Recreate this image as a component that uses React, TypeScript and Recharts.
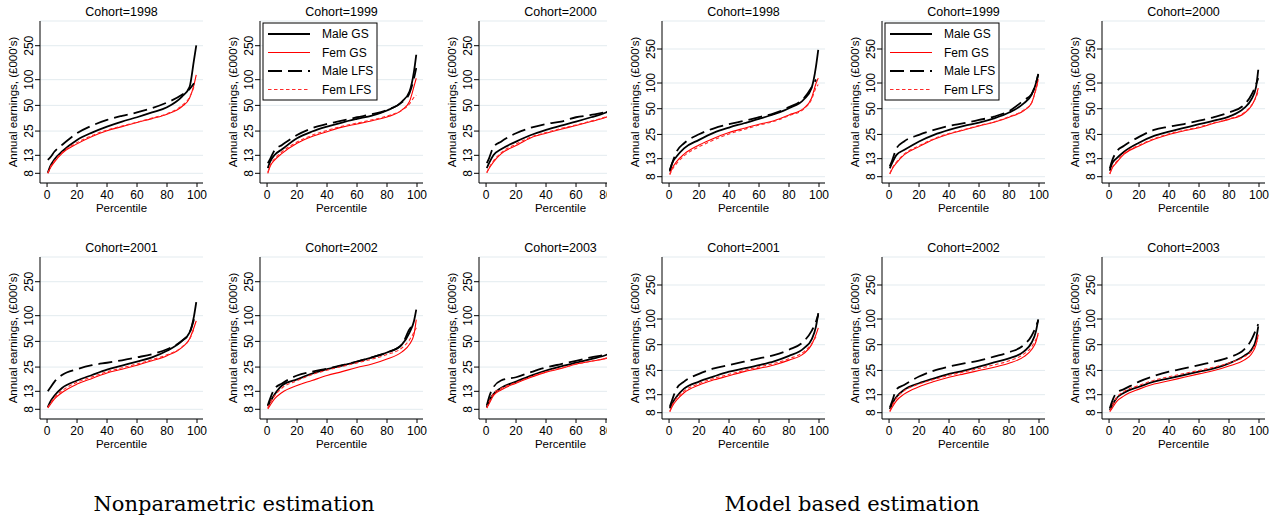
import React from 'react';
import { LineChart, Line, XAxis, YAxis, CartesianGrid } from 'recharts';

const FONT = '"Liberation Sans", Arial, Helvetica, sans-serif';

// percentile grid shared by every series
const PCT = [0.5, 2, 5, 10, 20, 30, 40, 50, 60, 70, 80, 90, 95, 98, 99.5];
const Y_TICKS = [8, 13, 25, 50, 100, 250];
const X_TICKS = [0, 20, 40, 60, 80, 100];
const SERIES_NAMES = ['Male GS', 'Fem GS', 'Male LFS', 'Fem LFS'];
const GROUP_TITLES = ['Nonparametric estimation', 'Model based estimation'];

// nonparametric estimation, annual earnings (£000's)
const np1998MaleGS = [8.1, 9.6, 11.7, 14.4, 19.7, 24, 28.2, 32.3, 36.3, 41.3, 47.6, 63.5, 81.8, 171, 252];
const np1998FemGS = [8, 9.1, 10.9, 13.7, 17.7, 21.6, 25.2, 28.2, 31.5, 35, 39.4, 48.5, 60.7, 87, 114];
const np1998MaleLFS = [11.5, 12.2, 14.4, 17.2, 23.6, 29, 33.8, 37.7, 41.3, 46.4, 54, 66.5, 77.4, 91, null];
const np1998FemLFS = [8, 9.3, 11.2, 14, 18.3, 22.2, 25.7, 28.6, 31.8, 35.5, 40, 50, 62, 82, null];

const np1999MaleGS = [9.2, 10.9, 13.1, 15.3, 20.6, 24.7, 28.2, 31.5, 34.7, 38, 43.5, 55.5, 72.7, 125, 196];
const np1999FemGS = [8, 9.6, 11.4, 13.7, 18, 21.6, 24.6, 27.8, 30.3, 33.1, 36.6, 44.2, 55.5, 83.3, 104];
const np1999MaleLFS = [10.5, 11.7, 14.9, 17.2, 22.5, 27, 30.3, 33.1, 36.3, 39.4, 44.2, 54.5, 69.5, 104, 137];
const np1999FemLFS = [8.2, 9.8, 11.8, 14.3, 18.6, 22.3, 25.4, 28.5, 31, 33.8, 37.5, 44, 52, 62, 66];

const np2000MaleGS = [9.2, 10.5, 13.1, 15.3, 18.8, 22.5, 25.8, 29, 32.3, 36.3, 41.3, 52, 66, 92, 140];
const np2000FemGS = [8.1, 9.1, 10.9, 13.5, 16.9, 20.9, 23.6, 26.3, 29, 32.3, 36.3, 44, 54, 70, 88];
const np2000MaleLFS = [10.5, 12, 16.3, 18.8, 23.6, 27.4, 30.3, 32.3, 36.3, 38.6, 41.9, 50, 62, 85, null];
const np2000FemLFS = [8.2, 9.3, 11.2, 13.9, 17.6, 21.3, 24, 26.8, 29.5, 32.7, 36.8, 45, 55, 68, null];

const np2001MaleGS = [8.5, 9.7, 11.6, 14.2, 17.4, 20.2, 23.3, 26, 29, 32.5, 38.8, 50.8, 63.4, 99, 144];
const np2001FemGS = [8.3, 9, 10.6, 12.6, 15.8, 18.4, 21.3, 23.6, 26.3, 29.6, 34, 42.5, 53.3, 72.8, 87];
const np2001MaleLFS = [13, 14.2, 16.9, 20.2, 23.6, 26.3, 28.1, 30, 32.5, 35.4, 40.4, 50.8, 62.5, 90.8, null];
const np2001FemLFS = [8.4, 9.3, 11, 13.2, 16.6, 19.2, 22, 24.5, 27.2, 30.5, 34.8, 43, 53, 70, null];

const np2002MaleGS = [8.7, 9.7, 11.9, 15.2, 17.9, 20.9, 23.6, 26, 29, 32.5, 37, 46.2, 63.4, 86.8, 118];
const np2002FemGS = [8.1, 8.9, 10.6, 12.6, 15.2, 17.4, 19.9, 22.1, 24.7, 27.1, 31, 37.7, 46.2, 60.5, 90];
const np2002MaleLFS = [8.9, 10.6, 13.9, 16.1, 19.9, 22.1, 24, 26.3, 29, 32.5, 37, 46, 69.5, 79, null];
const np2002FemLFS = [8.3, 9.5, 11.5, 14.2, 17.3, 20.4, 23, 25.4, 28, 31, 35, 42, 52, 64, 72];

const np2003MaleGS = [8.5, 10, 12.1, 14.2, 16.9, 19.9, 22.8, 25.5, 28.1, 31, 34.6, 42, 52, 70, 100];
const np2003FemGS = [8.3, 9.3, 11.6, 13.5, 16.2, 19, 21.8, 24, 27.1, 29.2, 31.6, 38, 46, 60, 80];
const np2003MaleLFS = [8.9, 11.1, 14.6, 17.4, 19, 21.8, 24.7, 27.1, 29.6, 32.5, 35.4, 43, 55, 72, null];
const np2003FemLFS = [8.3, 9.8, 12.2, 14, 16.5, 19.3, 22, 24.4, 27, 29.3, 31.8, 38, 46, 58, null];

// model based estimation
const mb1998MaleGS = [9.2, 11.4, 13.8, 17.2, 21.6, 26.3, 30.1, 33.8, 38, 43.1, 50.7, 64.6, 87, 157, 245];
const mb1998FemGS = [8.6, 10, 12, 14.7, 18.8, 22.6, 26.3, 29.5, 32.9, 36.2, 42.3, 50.7, 66.4, 98.6, 114];
const mb1998MaleLFS = [9.6, 11.4, 15.7, 19.7, 25.1, 29.5, 32.9, 36, 39.8, 44.2, 52.2, 66.4, 88.5, 110, null];
const mb1998FemLFS = [8.4, 9.6, 11.4, 14, 17.9, 21.6, 25.3, 28.6, 32.2, 35.6, 41.5, 50, 64, 88, 96];

const mb1999MaleGS = [10, 11.5, 14.4, 16.4, 20.7, 24.7, 28.2, 31.4, 34.3, 38.5, 45.1, 58, 72.8, 99.6, 128];
const mb1999FemGS = [8.6, 9.8, 11.6, 14.4, 18, 21.9, 25.3, 28.2, 31.4, 34.7, 39.8, 47.7, 58, 86.6, 111];
const mb1999MaleLFS = [10.6, 12.3, 17.2, 20.7, 24.7, 28.2, 31.4, 33.8, 36.9, 40.4, 47, 63, 74, 100, 125];
const mb1999FemLFS = [8.7, 10, 11.9, 14.7, 18.4, 22.3, 25.6, 28.5, 31.8, 35, 40.3, 48.5, 58.5, 84, 105];

const mb2000MaleGS = [9.4, 11.4, 13.1, 15.7, 20, 24, 27, 29.8, 32.9, 36.2, 40.4, 50.7, 64.6, 89.5, 143];
const mb2000FemGS = [8.6, 10, 11.7, 14.7, 18.3, 21.9, 25, 27.6, 30, 33.8, 37.5, 44, 54.1, 69.7, 87];
const mb2000MaleLFS = [10, 12.3, 15.7, 18.4, 23.4, 28.2, 30.8, 33.1, 36.2, 39.8, 45.1, 55.4, 72.8, 96, 114];
const mb2000FemLFS = [8.7, 10.2, 12, 15, 18.7, 22.3, 25.4, 28, 30.5, 34.2, 38, 45, 55, 68, 80];

const mb2001MaleGS = [9, 10.2, 12.3, 15.3, 18.5, 21.3, 24.2, 26.4, 28.9, 32, 37, 45.6, 57.4, 81.9, 117];
const mb2001FemGS = [8.2, 9.4, 11.2, 13.7, 16.9, 19.4, 21.7, 24.2, 26.4, 29, 33, 39.6, 49.8, 65.7, 78.6];
const mb2001MaleLFS = [9.4, 11.2, 15.3, 18.5, 22.8, 26.4, 28.9, 31.6, 34.6, 37.8, 43.7, 55.1, 72.1, 93.6, 112];
const mb2001FemLFS = [8.3, 9.7, 11.8, 14.3, 17.6, 20.2, 22.5, 25, 27.5, 30.2, 34.3, 41.5, 51, 62, null];

const mb2002MaleGS = [8.8, 10.1, 12.3, 14.8, 17.7, 20.2, 22.8, 24.9, 27.7, 31, 34.6, 41.8, 52.7, 72.1, 99];
const mb2002FemGS = [8.2, 9.2, 11.1, 13.2, 16.1, 18.5, 20.8, 22.8, 24.9, 27.2, 30.3, 36.3, 43.7, 54.5, 69];
const mb2002MaleLFS = [9.2, 10.8, 15.1, 16.9, 21.2, 24.9, 27.7, 30.3, 32.5, 36.3, 40.8, 49.8, 63.3, 81.9, 97];
const mb2002FemLFS = [8.4, 9.6, 11.9, 14.4, 17.3, 19.6, 21.9, 24, 26.4, 29, 32.4, 39, 47, 58, 64];

const mb2003MaleGS = [8.6, 9.7, 11.8, 13.7, 16.1, 18.5, 20.2, 22.1, 24.2, 26.4, 30.3, 37, 43.7, 57.4, 82];
const mb2003FemGS = [8.2, 9, 10.8, 12.6, 15.1, 17.3, 18.9, 20.8, 22.8, 24.9, 28.2, 33, 39, 49.8, 65.7];
const mb2003MaleLFS = [9, 10.8, 13.7, 15.1, 18.5, 21.5, 24.2, 26.4, 28.9, 31.6, 35.6, 43.7, 57.4, 75.4, 87];
const mb2003FemLFS = [8.4, 9.6, 12, 14.2, 16.7, 19.2, 21.1, 23, 25, 27.3, 30.5, 36, 42, 52, 60];

type Vals = (number | null)[];
type PanelDef = {
  cohort: number;
  group: 0 | 1;
  col: number;
  row: number;
  series: [Vals, Vals, Vals, Vals];
};

const PANELS: PanelDef[] = [
  { cohort: 1998, group: 0, col: 0, row: 0, series: [np1998MaleGS, np1998FemGS, np1998MaleLFS, np1998FemLFS] },
  { cohort: 1999, group: 0, col: 1, row: 0, series: [np1999MaleGS, np1999FemGS, np1999MaleLFS, np1999FemLFS] },
  { cohort: 2000, group: 0, col: 2, row: 0, series: [np2000MaleGS, np2000FemGS, np2000MaleLFS, np2000FemLFS] },
  { cohort: 2001, group: 0, col: 0, row: 1, series: [np2001MaleGS, np2001FemGS, np2001MaleLFS, np2001FemLFS] },
  { cohort: 2002, group: 0, col: 1, row: 1, series: [np2002MaleGS, np2002FemGS, np2002MaleLFS, np2002FemLFS] },
  { cohort: 2003, group: 0, col: 2, row: 1, series: [np2003MaleGS, np2003FemGS, np2003MaleLFS, np2003FemLFS] },
  { cohort: 1998, group: 1, col: 0, row: 0, series: [mb1998MaleGS, mb1998FemGS, mb1998MaleLFS, mb1998FemLFS] },
  { cohort: 1999, group: 1, col: 1, row: 0, series: [mb1999MaleGS, mb1999FemGS, mb1999MaleLFS, mb1999FemLFS] },
  { cohort: 2000, group: 1, col: 2, row: 0, series: [mb2000MaleGS, mb2000FemGS, mb2000MaleLFS, mb2000FemLFS] },
  { cohort: 2001, group: 1, col: 0, row: 1, series: [mb2001MaleGS, mb2001FemGS, mb2001MaleLFS, mb2001FemLFS] },
  { cohort: 2002, group: 1, col: 1, row: 1, series: [mb2002MaleGS, mb2002FemGS, mb2002MaleLFS, mb2002FemLFS] },
  { cohort: 2003, group: 1, col: 2, row: 1, series: [mb2003MaleGS, mb2003FemGS, mb2003MaleLFS, mb2003FemLFS] },
];

// layout of the two figure blocks
const GROUP_LEFT = [0, 622];
const COL_STEP = [219.5, 220];
const ROW_TOP = [0, 236];
const Y_DOMAIN: [number, number][] = [[6.16, 487], [6.75, 532]];
const CAPTION_X = [234, 852];

const PANEL_W = 215;
const PANEL_H = 220;
const PLOT_LEFT = 40;
const PLOT_RIGHT = 203;
const PLOT_TOP = 21;
const PLOT_BOTTOM = 183;
const PLOT_MID = (PLOT_LEFT + PLOT_RIGHT) / 2;

const STYLES = [
  { key: 's0', stroke: '#000', width: 1.8, dash: undefined },
  { key: 's1', stroke: '#ff0000', width: 1.1, dash: undefined },
  { key: 's2', stroke: '#000', width: 1.8, dash: '14 6' },
  { key: 's3', stroke: '#ff2a2a', width: 1.1, dash: '3.5 2.5' },
];

const YTick = (props: any) => {
  const { x, y, payload } = props;
  return (
    <text x={x} y={y} transform={`rotate(-90 ${x} ${y})`} textAnchor="middle"
      fontSize={12} fontFamily={FONT} fill="#000">
      {payload.value}
    </text>
  );
};

const LegendBox = () => {
  const rows = [34, 52.5, 71, 89.5];
  return (
    <g>
      <rect x={43} y={23} width={114} height={77} fill="#fff" stroke="#000" strokeWidth={1} />
      {SERIES_NAMES.map((name, i) => (
        <g key={name}>
          <line x1={48} x2={90} y1={rows[i]} y2={rows[i]} stroke={STYLES[i].stroke}
            strokeWidth={STYLES[i].width} strokeDasharray={STYLES[i].dash} />
          <text x={102} y={rows[i] + 4.3} fontSize={12} fontFamily={FONT} fill="#000">{name}</text>
        </g>
      ))}
    </g>
  );
};

const EarningsPanel = ({ panel }: { panel: PanelDef }) => {
  const data = PCT.map((p, i) => ({
    p,
    s0: panel.series[0][i],
    s1: panel.series[1][i],
    s2: panel.series[2][i],
    s3: panel.series[3][i],
  }));
  const left = Math.round(GROUP_LEFT[panel.group] + panel.col * COL_STEP[panel.group]);
  const top = ROW_TOP[panel.row];
  // the third nonparametric column is cut off at the block edge
  const width = panel.group === 0 && panel.col === 2 ? 607 - left : PANEL_W;

  return (
    <div style={{ position: 'absolute', left, top, width, height: PANEL_H, overflow: 'hidden' }}>
      <LineChart width={PANEL_W} height={PANEL_H} data={data}
        margin={{ top: PLOT_TOP, right: PANEL_W - PLOT_RIGHT, bottom: 0, left: 0 }}>
        <CartesianGrid vertical={false} stroke="#e3ebef" strokeWidth={1} />
        <XAxis type="number" dataKey="p" domain={[-4.7, 104]} ticks={X_TICKS} interval={0}
          allowDataOverflow height={PANEL_H - PLOT_BOTTOM} tickSize={4} tickMargin={3}
          stroke="#000" tick={{ fontSize: 12, fill: '#000', fontFamily: FONT }} />
        <YAxis type="number" scale="log" domain={Y_DOMAIN[panel.group]} ticks={Y_TICKS} interval={0}
          allowDataOverflow width={PLOT_LEFT} tickSize={5} tickMargin={2} stroke="#000" tick={YTick} />
        {STYLES.map((s) => (
          <Line key={s.key} dataKey={s.key} type="monotone" stroke={s.stroke} strokeWidth={s.width}
            strokeDasharray={s.dash} dot={false} activeDot={false} isAnimationActive={false} />
        ))}
      </LineChart>
      <svg width={PANEL_W} height={PANEL_H}
        style={{ position: 'absolute', left: 0, top: 0, pointerEvents: 'none' }}>
        <text x={PLOT_MID} y={15.7} textAnchor="middle" fontSize={12.5} fontFamily={FONT} fill="#000">
          Cohort={panel.cohort}
        </text>
        <text transform={`translate(17 ${(PLOT_TOP + PLOT_BOTTOM) / 2}) rotate(-90)`} textAnchor="middle"
          fontSize={11.5} fontFamily={FONT} fill="#000">
          Annual earnings, (£000's)
        </text>
        <text x={PLOT_MID} y={211.5} textAnchor="middle" fontSize={11.5} fontFamily={FONT} fill="#000">
          Percentile
        </text>
        {panel.col === 1 && panel.row === 0 && <LegendBox />}
      </svg>
    </div>
  );
};

export default function App() {
  return (
    <div style={{ position: 'absolute', left: 0, top: 0, width: 1279, height: 520, background: '#fff', overflow: 'hidden' }}>
      {PANELS.map((p) => (
        <EarningsPanel key={`${p.group}-${p.cohort}`} panel={p} />
      ))}
      <svg width={1279} height={520} style={{ position: 'absolute', left: 0, top: 0, pointerEvents: 'none' }}>
        {GROUP_TITLES.map((t, i) => (
          <text key={t} x={CAPTION_X[i]} y={511} textAnchor="middle" fontSize={21}
            fontFamily='"DejaVu Serif", "Liberation Serif", serif' fill="#000">
            {t}
          </text>
        ))}
      </svg>
    </div>
  );
}
